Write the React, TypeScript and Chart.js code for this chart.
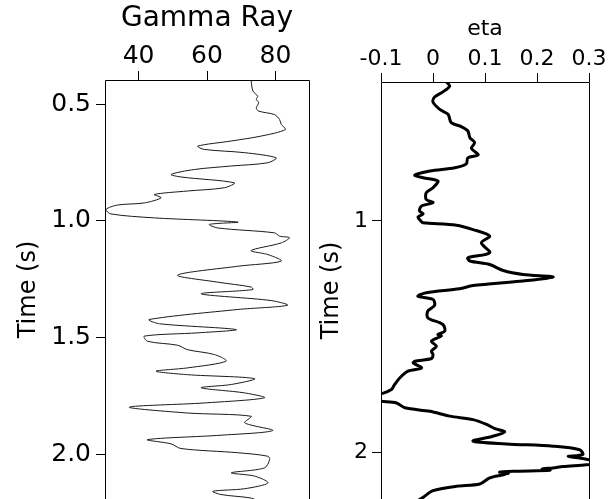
import React, { useEffect, useRef } from 'react';
import { Chart, registerables } from 'chart.js';

Chart.register(...registerables);

// ---- Gamma Ray log (time in s, API value) ----
const GR_TIME = [
  0.39, 0.40, 0.444, 0.466, 0.48, 0.494, 0.516, 0.53, 0.545, 0.566, 0.587, 0.609,
  0.637, 0.658, 0.68, 0.694, 0.708, 0.73, 0.751, 0.765, 0.78, 0.801, 0.812, 0.837,
  0.858, 0.872, 0.887, 0.901, 0.923, 0.932, 0.951, 0.97, 0.987, 1.005, 1.015, 1.03,
  1.051, 1.065, 1.072, 1.094, 1.127, 1.144, 1.172, 1.194, 1.232, 1.262, 1.283, 1.294,
  1.312, 1.341, 1.361, 1.379, 1.422, 1.44, 1.465, 1.479, 1.493, 1.515, 1.532, 1.551,
  1.572, 1.6, 1.629, 1.643, 1.658, 1.675, 1.7, 1.714, 1.736, 1.757, 1.779, 1.797,
  1.822, 1.836, 1.864, 1.897, 1.917, 1.936, 1.954, 1.974, 1.992, 2.007, 2.021, 2.057,
  2.078, 2.092, 2.121, 2.146, 2.157, 2.171, 2.186, 2.2,
];
const GR_VALUE = [
  72.8, 72.9, 73.4, 74.8, 74.4, 75.1, 74.4, 75.1, 79.7, 81.2, 81.7, 82.9,
  75.8, 67.1, 57.3, 59.2, 71, 80.2, 77.8, 67.1, 56.3, 49.5, 52.4, 68,
  65.1, 54.3, 44.6, 46.6, 41.7, 33.9, 30.5, 31.9, 44.6, 69, 60.7, 63.1,
  79.7, 81.2, 84.1, 81.7, 72.9, 77.8, 81.7, 69, 51.4, 63.1, 72.9, 73.4,
  58.3, 78.8, 83.5, 69, 43.1, 46.1, 68.5, 57.3, 41.7, 42.6, 51.4, 54.3,
  62.2, 65.6, 54.3, 45.1, 54.3, 73.9, 67.1, 58.3, 71, 76.8, 59.2, 37.3,
  54.3, 72.9, 71, 79.2, 64.1, 42.6, 49.5, 52.4, 69, 77.8, 78.3, 76.8,
  67.1, 73.9, 77.8, 71, 61.7, 64.1, 72.9, 75,
];

// ---- eta (time in s, eta value) ----
const ETA_TIME = [
  0.39, 0.40, 0.419, 0.443, 0.465, 0.487, 0.519, 0.54, 0.576, 0.594, 0.612, 0.641,
  0.662, 0.687, 0.715, 0.728, 0.754, 0.771, 0.785, 0.803, 0.814, 0.828, 0.857, 0.879,
  0.908, 0.922, 0.936, 0.958, 0.97, 0.984, 1.004, 1.009, 1.019, 1.038, 1.066, 1.095,
  1.138, 1.16, 1.174, 1.189, 1.215, 1.232, 1.243, 1.261, 1.28, 1.294, 1.311, 1.326,
  1.34, 1.365, 1.39, 1.419, 1.448, 1.477, 1.491, 1.498, 1.52, 1.542, 1.563, 1.578,
  1.595, 1.607, 1.614, 1.636, 1.65, 1.679, 1.708, 1.729, 1.748, 1.76, 1.772, 1.78,
  1.787, 1.808, 1.823, 1.844, 1.859, 1.88, 1.898, 1.912, 1.931, 1.952, 1.964, 1.974,
  1.989, 2.01, 2.018, 2.028, 2.046, 2.054, 2.062, 2.068, 2.072, 2.078, 2.082, 2.086,
  2.09, 2.097, 2.111, 2.137, 2.147, 2.166, 2.195, 2.21,
];
const ETA_VALUE = [
  0.024, 0.026, 0.032, 0.019, 0.003, 0.0, 0.013, 0.029, 0.035, 0.055, 0.067, 0.071,
  0.08, 0.074, 0.087, 0.067, 0.064, 0.042, -0.006, -0.035, -0.019, 0.0096, 0.0, -0.013,
  -0.013, 0.0, -0.022, -0.026, -0.019, -0.029, -0.022, -0.019, 0.045, 0.077, 0.109, 0.093,
  0.109, 0.067, 0.071, 0.109, 0.135, 0.173, 0.231, 0.167, 0.077, 0.051, -0.013, -0.029,
  0.0, 0.003, -0.01, -0.01, 0.019, 0.0225, 0.0096, 0.016, -0.003, 0.0065, -0.003, 0.0,
  -0.003, -0.035, -0.038, -0.022, -0.048, -0.064, -0.074, -0.08, -0.0995, -0.125, -0.125, -0.1,
  -0.07, -0.054, -0.006, 0.032, 0.077, 0.103, 0.119, 0.138, 0.115, 0.077, 0.141, 0.231,
  0.282, 0.288, 0.26, 0.29, 0.32, 0.295, 0.25, 0.231, 0.21, 0.225, 0.154, 0.128,
  0.145, 0.135, 0.109, 0.09, 0.045, 0.0, -0.019, -0.03,
];

const GR_X_TICKS = [40, 60, 80];
const GR_X_LABELS = ['40', '60', '80'];
const GR_Y_TICKS = [0.5, 1.0, 1.5, 2.0];
const GR_Y_LABELS = ['0.5', '1.0', '1.5', '2.0'];
const ETA_X_TICKS = [-0.1, 0, 0.1, 0.2, 0.3];
const ETA_X_LABELS = ['-0.1', '0', '0.1', '0.2', '0.3'];
const ETA_Y_TICKS = [1, 2];
const ETA_Y_LABELS = ['1', '2'];

const FONT = '"DejaVu Sans", "Liberation Sans", sans-serif';

const framePlugin = {
  id: 'frame',
  afterDatasetsDraw(chart: any) {
    const { ctx, chartArea } = chart;
    const l = Math.round(chartArea.left) + 0.5;
    const r = Math.round(chartArea.right) + 0.5;
    const t = Math.round(chartArea.top) + 0.5;
    const b = chartArea.bottom + 2;
    ctx.save();
    ctx.strokeStyle = '#000';
    ctx.lineWidth = 1;
    ctx.beginPath();
    ctx.moveTo(l, b);
    ctx.lineTo(l, t);
    ctx.lineTo(r, t);
    ctx.lineTo(r, b);
    ctx.stroke();
    ctx.restore();
  },
};

function fixedTicks(values: number[]) {
  return (scale: any) => {
    scale.ticks = values.map((v) => ({ value: v }));
  };
}

function labelFor(values: number[], labels: string[]) {
  return (v: any) => {
    const i = values.findIndex((x) => Math.abs(x - Number(v)) < 1e-9);
    return i >= 0 ? labels[i] : '';
  };
}

const gridOpts = {
  display: true,
  drawOnChartArea: false,
  drawTicks: true,
  tickLength: 9,
  color: '#000',
  lineWidth: 1,
};

function makeConfig(p: any) {
  return {
    type: 'scatter',
    data: {
      datasets: [
        {
          data: p.xs.map((x: number, i: number) => ({ x, y: p.ys[i] })),
          showLine: true,
          borderColor: p.color,
          borderWidth: p.lineWidth,
          pointRadius: 0,
          tension: 0.3,
          fill: false,
        },
      ],
    },
    options: {
      animation: false,
      responsive: false,
      events: [],
      layout: { padding: { left: 0, top: 0, right: p.padRight, bottom: 0 } },
      plugins: { legend: { display: false }, tooltip: { enabled: false } },
      scales: {
        x: {
          type: 'linear',
          position: 'top',
          min: p.xMin,
          max: p.xMax,
          afterBuildTicks: fixedTicks(p.xTicks),
          afterFit: (s: any) => {
            s.height = p.top;
            s.paddingLeft = 0;
            s.paddingRight = 0;
          },
          ticks: {
            autoSkip: false,
            maxRotation: 0,
            padding: p.xTickPad,
            color: '#000',
            font: { family: FONT, size: p.xTickSize },
            callback: labelFor(p.xTicks, p.xLabels),
          },
          grid: gridOpts,
          border: { display: false },
          title: {
            display: true,
            text: p.xTitle,
            color: '#000',
            font: { family: FONT, size: p.xTitleSize },
            padding: { top: p.xTitlePad, bottom: 0 },
          },
        },
        y: {
          type: 'linear',
          reverse: true,
          min: p.yMin,
          max: p.yMax,
          afterBuildTicks: fixedTicks(p.yTicks),
          afterFit: (s: any) => {
            s.width = p.left;
            s.paddingTop = 0;
            s.paddingBottom = 0;
          },
          ticks: {
            autoSkip: false,
            padding: p.yTickPad,
            color: '#000',
            font: { family: FONT, size: p.yTickSize },
            callback: labelFor(p.yTicks, p.yLabels),
          },
          grid: gridOpts,
          border: { display: false },
          title: {
            display: true,
            text: 'Time (s)',
            color: '#000',
            font: { family: FONT, size: p.yTitleSize },
            padding: { top: p.yTitlePad, bottom: 0 },
          },
        },
      },
    },
    plugins: [framePlugin],
  } as any;
}

export default function App() {
  const leftRef = useRef<HTMLCanvasElement>(null);
  const rightRef = useRef<HTMLCanvasElement>(null);

  useEffect(() => {
    const left = new Chart(
      leftRef.current as HTMLCanvasElement,
      makeConfig({
        xs: GR_VALUE,
        ys: GR_TIME,
        color: '#1a1a1a',
        lineWidth: 1,
        padRight: 21,
        xMin: 30.2,
        xMax: 89.8,
        xTicks: GR_X_TICKS,
        xLabels: GR_X_LABELS,
        top: 80,
        xTickPad: 0,
        xTickSize: 25,
        xTitle: 'Gamma Ray',
        xTitleSize: 28,
        xTitlePad: 2,
        yMin: 0.397,
        yMax: 2.19,
        yTicks: GR_Y_TICKS,
        yLabels: GR_Y_LABELS,
        left: 105,
        yTickPad: 5,
        yTickSize: 25,
        yTitleSize: 24,
        yTitlePad: 14,
      })
    );
    const right = new Chart(
      rightRef.current as HTMLCanvasElement,
      makeConfig({
        xs: ETA_VALUE,
        ys: ETA_TIME,
        color: '#000',
        lineWidth: 3,
        padRight: 20,
        xMin: -0.1,
        xMax: 0.3,
        xTicks: ETA_X_TICKS,
        xLabels: ETA_X_LABELS,
        top: 82,
        xTickPad: 1,
        xTickSize: 22,
        xTitle: 'eta',
        xTitleSize: 22,
        xTitlePad: 16,
        yMin: 0.4004,
        yMax: 2.202,
        yTicks: ETA_Y_TICKS,
        yLabels: ETA_Y_LABELS,
        left: 71,
        yTickPad: 4,
        yTickSize: 22,
        yTitleSize: 24,
        yTitlePad: 7,
      })
    );
    return () => {
      left.destroy();
      right.destroy();
    };
  }, []);

  return (
    <div style={{ position: 'fixed', left: 0, top: 0, width: 609, height: 499, background: '#fff', overflow: 'hidden' }}>
      <canvas ref={leftRef} width={330} height={499} style={{ position: 'absolute', left: 0, top: 0 }} />
      <canvas ref={rightRef} width={299} height={499} style={{ position: 'absolute', left: 310, top: 0 }} />
    </div>
  );
}
